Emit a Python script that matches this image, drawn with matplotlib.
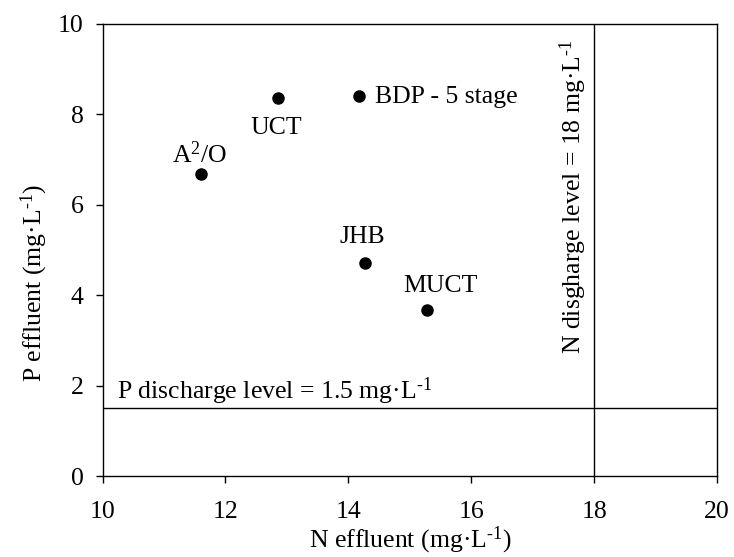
import numpy as np
import matplotlib.pyplot as plt

plt.rcParams['font.family'] = ['Liberation Serif', 'DejaVu Serif']
plt.rcParams['mathtext.fontset'] = 'custom'
plt.rcParams['mathtext.rm'] = 'Liberation Serif'
plt.rcParams['mathtext.it'] = 'Liberation Serif:italic'

# process configurations: N effluent vs P effluent (mg/L)
names = ['A$^2$/O', 'UCT', 'BDP - 5 stage', 'JHB', 'MUCT']
n_eff = [11.6, 12.85, 14.18, 14.27, 15.28]
p_eff = [6.67, 8.37, 8.4, 4.72, 3.68]

p_limit = 1.5
n_limit = 18

FS = 18.5
unit = r'mg·L$^{\text{-1}}$'

fig = plt.figure(figsize=(7.34, 5.57), dpi=100)
ax = fig.add_axes([0.1397, 0.1454, 0.8373, 0.8116])

ax.plot(n_eff, p_eff, 'o', color='black', markersize=8)
ax.axhline(p_limit, color='black', lw=1)
ax.axvline(n_limit, color='black', lw=1)

# label offsets in points (dx, dy, ha), baseline anchored
offs = [(-1, 8, 'center'),
        (-1, -26.5, 'center'),
        (11.5, -5, 'left'),
        (-2, 14, 'center'),
        (-17, 12.5, 'left')]
for nm, x, y, (dx, dy, ha) in zip(names, n_eff, p_eff, offs):
    ax.annotate(nm, (x, y), xytext=(dx, dy), textcoords='offset points',
                ha=ha, va='baseline', fontsize=FS)

ax.text(10.236, 1.7, 'P discharge level = 1.5 ' + unit,
        fontsize=FS, ha='left', va='baseline')
ax.text(17.92, 9.65, 'N disgharge level = 18 ' + unit,
        fontsize=FS, rotation=90, ha='right', va='top')

ax.set_xlim(10, 20)
ax.set_ylim(0, 10)
ax.set_xticks(np.arange(10, 21, 2))
ax.set_yticks(np.arange(0, 11, 2))
ax.tick_params(direction='out', length=5, labelsize=FS, width=1)
ax.tick_params(axis='y', pad=8.5)
ax.tick_params(axis='x', pad=13)
ax.set_xlabel('N effluent (' + unit + ')', fontsize=FS, labelpad=1.5)
ax.set_ylabel('P effluent (' + unit + ')', fontsize=FS)
ax.yaxis.set_label_coords(-0.0856, 0.427)
for s in ax.spines.values():
    s.set_linewidth(1)

fig.savefig('out.png', dpi=100)
